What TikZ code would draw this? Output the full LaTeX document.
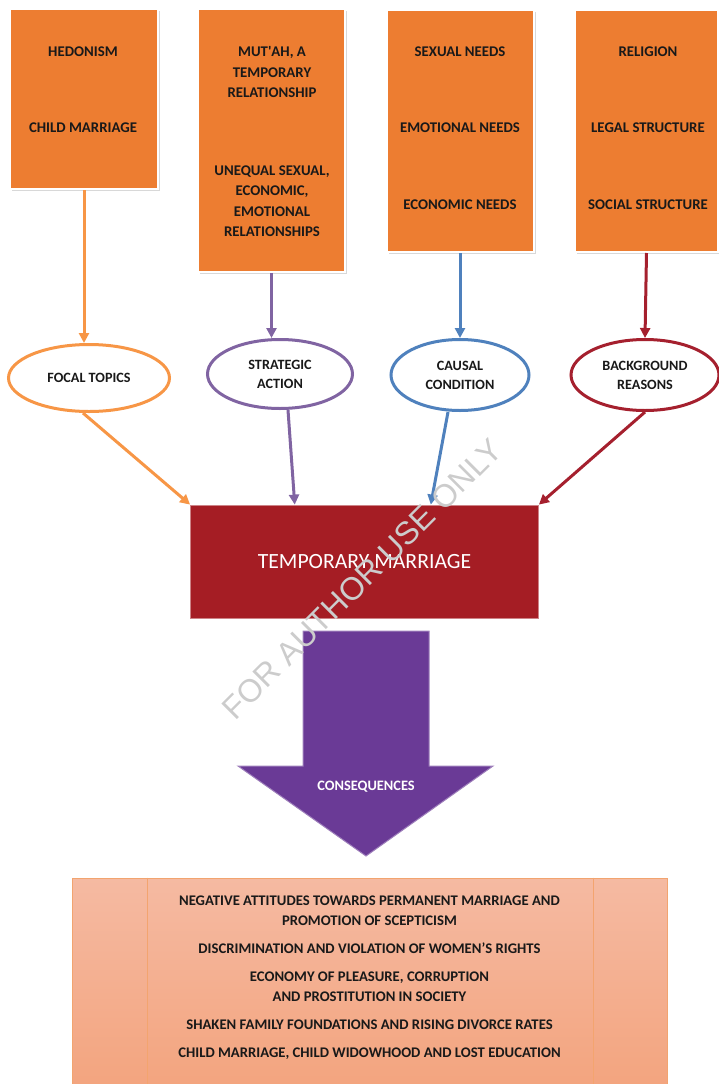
\documentclass[tikz,border=0pt]{standalone}
\usepackage{fontspec}
\setmainfont{Carlito}
\newfontfamily\wmfont{Liberation Sans}
\usetikzlibrary{shapes.geometric,arrows.meta,shadows,calc}
\definecolor{boxorange}{HTML}{ED7D31}
\definecolor{ellorange}{HTML}{F79646}
\definecolor{ellpurple}{HTML}{8064A2}
\definecolor{ellblue}{HTML}{4F81BD}
\definecolor{ellred}{HTML}{A5202E}
\definecolor{tmred}{HTML}{A51D24}
\definecolor{arrpurple}{HTML}{6A3A96}
\definecolor{efftop}{HTML}{F5BAA2}
\definecolor{effbot}{HTML}{F3A47E}
\tikzset{
	topbox/.style={rectangle, fill=boxorange, draw=white, line width=2pt, inner sep=0pt,
		drop shadow={shadow xshift=2pt, shadow yshift=-2pt, fill=gray!60}},
	item/.style={font=\fontsize{14.8}{20.5}\selectfont\bfseries, align=center, text=black!90},
	factor/.style={ellipse, draw, line width=3pt, fill=white, inner sep=0pt,
		font=\fontsize{14.2}{19}\selectfont\bfseries, align=center, text=black!90},
	link/.style={line width=3pt, -{Triangle[length=10pt,width=10pt]}},
	tmbox/.style={rectangle, fill=tmred, draw=tmred!55!white, line width=0.8pt,
		minimum width=348pt, minimum height=113pt, text=white, font=\fontsize{21.7}{26}\selectfont},
	effbox/.style={rectangle, top color=efftop, bottom color=effbot, draw=boxorange!70!white,
		line width=0.8pt, minimum width=595pt, minimum height=212pt},
	efftext/.style={font=\fontsize{14.7}{20}\selectfont\bfseries, align=center, text=black!90},
	watermark/.style={rotate=45, text=gray!40, font=\wmfont\fontsize{32}{32}\selectfont}
}
\begin{document}
\begin{tikzpicture}[x=1pt, y=-1pt]
		\useasboundingbox (0,0) rectangle (719,1084);
		\node[topbox, minimum width=148pt, minimum height=180pt] (hedon) at (84,99) {};
		\node[topbox, minimum width=147pt, minimum height=263pt] (mutah) at (271.5,140.5) {};
		\node[topbox, minimum width=147pt, minimum height=242pt] (needs) at (460,131) {};
		\node[topbox, minimum width=143pt, minimum height=242pt] (relig) at (646.5,131) {};
		\node[item] (hed1) at (83,52) {HEDONISM};
		\node[item] (hed2) at (83,128) {CHILD MARRIAGE};
		\node[item] (mut1) at (272,72) {MUT\textquotesingle AH, A\\TEMPORARY\\RELATIONSHIP};
		\node[item] (mut2) at (272,201) {UNEQUAL SEXUAL,\\ECONOMIC,\\EMOTIONAL\\RELATIONSHIPS};
		\node[item] (need1) at (460,52) {SEXUAL NEEDS};
		\node[item] (need2) at (460,128) {EMOTIONAL NEEDS};
		\node[item] (need3) at (460,205) {ECONOMIC NEEDS};
		\node[item] (rel1) at (648,52) {RELIGION};
		\node[item] (rel2) at (648,128) {LEGAL STRUCTURE};
		\node[item] (rel3) at (648,205) {SOCIAL STRUCTURE};
		\node[factor, draw=ellorange, minimum width=161pt, minimum height=67pt] (focal) at (89,378) {FOCAL TOPICS};
		\node[factor, draw=ellpurple, minimum width=145pt, minimum height=69pt] (strat) at (280,374) {STRATEGIC\\ACTION};
		\node[factor, draw=ellblue, minimum width=138pt, minimum height=71pt] (causal) at (460,375) {CAUSAL\\CONDITION};
		\node[factor, draw=ellred, minimum width=148pt, minimum height=71pt] (backgr) at (645,375) {BACKGROUND\\REASONS};
		\draw[link, ellorange] (hedon.south) -- (hedon.south |- focal.north);
		\draw[link, ellpurple] (mutah.south) -- (mutah.south |- strat.north);
		\draw[link, ellblue] (needs.south) -- (causal.north);
		\draw[link, ellred] (relig.south) -- (backgr.north);
		\node[tmbox] (tm) at (364.5,561.5) {TEMPORARY MARRIAGE};
		\draw[link, ellorange] ([xshift=-6pt]focal.south) -- (tm.north west);
		\draw[link, ellpurple] ([xshift=8pt]strat.south) -- ($(tm.north west)!0.3!(tm.north east)$);
		\draw[link, ellblue] ([xshift=-12pt]causal.south) -- ($(tm.north west)!0.69!(tm.north east)$);
		\draw[link, ellred] (backgr.south) -- (tm.north east);
		\filldraw[fill=arrpurple, draw=arrpurple!65!white, line width=1pt]
			(303,631) -- (429,631) -- (429,766) -- (493,766) -- (366,856) -- (238,766) -- (303,766) -- cycle;
		\node[font=\fontsize{14.4}{17}\selectfont\bfseries, text=white] (conseq) at (366,787) {CONSEQUENCES};
		\node[effbox] (effects) at (369.5,984) {};
		\draw[boxorange!70!white, line width=0.8pt] ([xshift=76pt]effects.north west) -- ([xshift=76pt]effects.south west);
		\draw[boxorange!70!white, line width=0.8pt] ([xshift=-74pt]effects.north east) -- ([xshift=-74pt]effects.south east);
		\node[efftext] (efflist) at (369.5,978) {NEGATIVE ATTITUDES TOWARDS PERMANENT MARRIAGE AND\\PROMOTION OF SCEPTICISM\\[8pt]
			DISCRIMINATION AND VIOLATION OF WOMEN'S RIGHTS\\[8pt]
			ECONOMY OF PLEASURE, CORRUPTION\\AND PROSTITUTION IN SOCIETY\\[8pt]
			SHAKEN FAMILY FOUNDATIONS AND RISING DIVORCE RATES\\[8pt]
			CHILD MARRIAGE, CHILD WIDOWHOOD AND LOST EDUCATION};
		\node[watermark] (wm) at (362,579) {FOR AUTHOR USE ONLY};
	\end{tikzpicture}
\end{document}
